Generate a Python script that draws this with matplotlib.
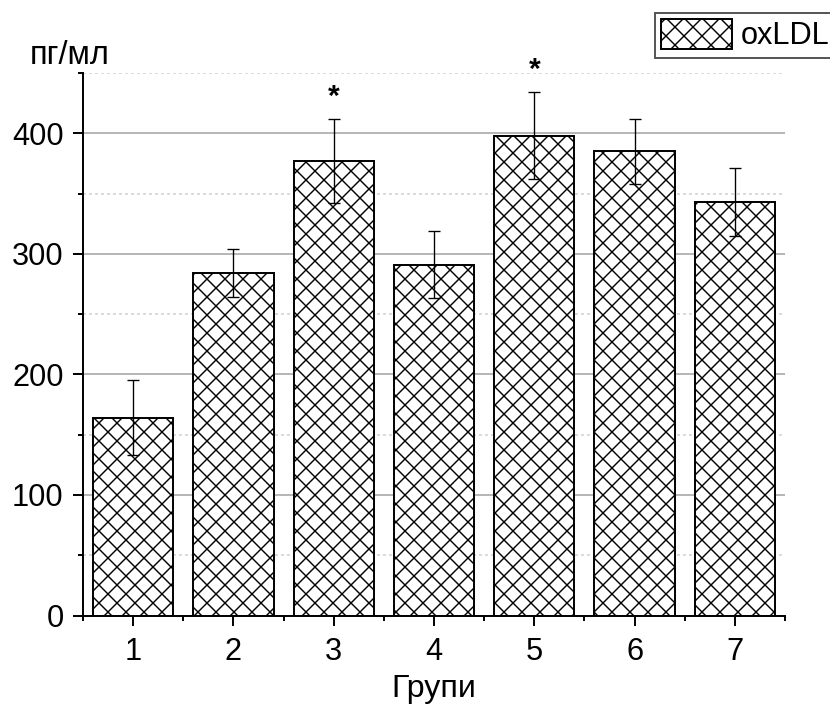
import numpy as np
import matplotlib
matplotlib.use("Agg")
import matplotlib.pyplot as plt
from matplotlib.ticker import MultipleLocator

plt.rcParams["font.family"] = ["Liberation Sans", "DejaVu Sans"]
plt.rcParams["hatch.linewidth"] = 0.95

# data
groups = [1, 2, 3, 4, 5, 6, 7]
means = [164, 284, 377, 291, 398, 385, 343]
errors = [31, 20, 35, 28, 36, 27, 28]
stars = [3, 5]

DPI = 108
fig = plt.figure(figsize=(830 / DPI, 704 / DPI), dpi=DPI)
ax = fig.add_axes([0.1, 0.1257, 0.8458, 0.7706])

bars = ax.bar(groups, means, width=0.8, color="white", edgecolor="black",
              linewidth=1.3, hatch="xx", label="oxLDL", zorder=2)
ax.errorbar(groups, means, yerr=errors, fmt="none", ecolor="black",
            elinewidth=0.9, capsize=3.7, capthick=0.9, zorder=3)

for g in stars:
    i = groups.index(g)
    ax.annotate("*", (g, means[i] + errors[i]), xytext=(0, 14.8),
                textcoords="offset points", ha="center", va="center",
                fontsize=20, fontweight="bold", annotation_clip=False)

ax.set_xlim(0.5, 7.5)
ax.set_ylim(0, 450)
ax.yaxis.set_major_locator(MultipleLocator(100))
ax.yaxis.set_minor_locator(MultipleLocator(50))
ax.set_xticks(groups)
ax.set_xticks(np.arange(0.5, 8, 1), minor=True)

ax.grid(axis="y", which="major", color="#b0b0b0", linewidth=1.2, zorder=0)
ax.grid(axis="y", which="minor", color="#d0d0d0", linewidth=1.0,
        linestyle=(0, (2, 2)), zorder=0)
ax.set_axisbelow(True)

for s in ["top", "right"]:
    ax.spines[s].set_visible(False)
for s in ["left", "bottom"]:
    ax.spines[s].set_linewidth(1.3)

ax.tick_params(which="major", direction="out", length=6.5, width=1.3,
               labelsize=20.5)
ax.tick_params(which="minor", direction="out", length=3.3, width=1.3)
ax.tick_params(axis="x", which="major", pad=8)
ax.tick_params(axis="y", which="major", pad=6.5)

ax.set_xlabel("Групи", fontsize=21.5, labelpad=4.8)
fig.text(70 / 830, 1 - 55 / 704, "пг/мл", fontsize=21.7, ha="center",
         va="center")

leg = ax.legend(loc="upper left", bbox_to_anchor=(655 / 830, 1 - 13 / 704),
                bbox_transform=fig.transFigure, borderaxespad=0,
                fancybox=False, framealpha=1, edgecolor="#555555",
                fontsize=20.5, handlelength=2.3, handleheight=1.1,
                handletextpad=0.3, borderpad=0.2)
leg.get_frame().set_linewidth(1.3)

fig.savefig("out.png", dpi=DPI)
